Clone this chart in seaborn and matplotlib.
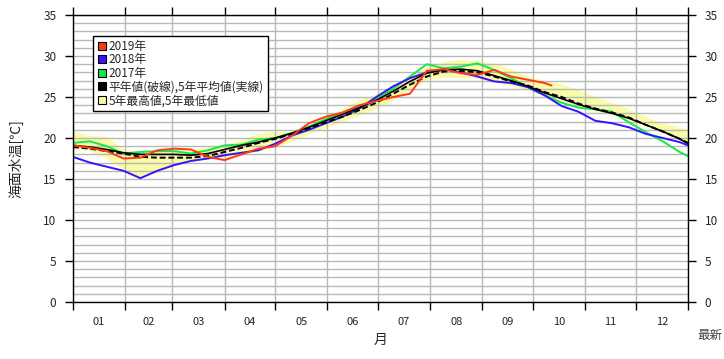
import numpy as np
import pandas as pd
import matplotlib
matplotlib.use("Agg")
import matplotlib.pyplot as plt
from matplotlib.lines import Line2D
import seaborn as sns

# ---------------------------------------------
# data (day of year)
# ---------------------------------------------
days = [0, 10, 20, 30, 40, 50, 60, 70, 80, 90, 100, 110, 120, 130, 140, 150,
        160, 170, 180, 190, 200, 210, 220, 230, 240, 250, 260, 270, 280, 290,
        300, 310, 320, 330, 340, 350, 360, 365]

sst_2018 = [17.7, 17.0, 16.5, 16.0, 15.1, 16.0, 16.7, 17.2, 17.5, 17.9, 18.2,
            18.5, 19.3, 20.3, 21.0, 21.8, 22.6, 23.6, 25.0, 26.3, 27.3, 28.0,
            28.4, 28.0, 27.5, 26.9, 26.7, 26.2, 25.2, 23.9, 23.2, 22.1, 21.8,
            21.3, 20.5, 20.0, 19.5, 19.1]

sst_2017 = [19.4, 19.6, 19.0, 18.1, 18.3, 18.4, 18.4, 18.1, 18.5, 19.1, 19.2,
            19.8, 20.0, 20.6, 21.4, 22.3, 23.1, 23.8, 24.8, 26.0, 27.5, 29.0,
            28.5, 28.7, 29.1, 28.3, 27.3, 26.2, 25.2, 24.3, 23.7, 23.5, 23.2,
            21.9, 20.7, 19.6, 18.3, 17.8]

days_2019 = [0, 10, 20, 30, 40, 50, 60, 70, 80, 90, 100, 110, 120, 130, 140,
             150, 160, 170, 180, 190, 200, 205, 210, 220, 230, 240, 250, 260,
             270, 280, 284]
sst_2019 = [19.1, 18.8, 18.4, 17.5, 17.6, 18.5, 18.7, 18.6, 17.7, 17.3, 18.0,
            18.7, 19.0, 20.3, 21.8, 22.6, 23.1, 24.0, 24.5, 25.0, 25.4, 26.8,
            28.2, 28.4, 27.9, 27.7, 28.3, 27.5, 27.1, 26.7, 26.4]

normal = [18.9, 18.7, 18.4, 18.1, 17.7, 17.6, 17.6, 17.6, 17.8, 18.3, 18.8,
          19.4, 19.9, 20.5, 21.2, 21.9, 22.6, 23.4, 24.3, 25.4, 26.5, 27.5,
          28.1, 28.2, 28.0, 27.5, 26.9, 26.4, 25.6, 25.0, 24.2, 23.6, 23.1,
          22.5, 21.6, 20.8, 19.9, 19.4]

mean_5yr = [19.1, 18.9, 18.6, 18.2, 18.0, 18.0, 18.0, 17.9, 18.1, 18.6, 19.1,
            19.5, 20.0, 20.6, 21.3, 22.1, 22.9, 23.7, 24.6, 25.7, 26.9, 27.9,
            28.3, 28.4, 28.2, 27.6, 27.0, 26.3, 25.5, 24.8, 24.1, 23.5, 23.0,
            22.4, 21.6, 20.8, 19.9, 19.3]

max_5yr = [20.8, 20.3, 20.2, 18.6, 18.4, 18.5, 18.6, 18.6, 18.9, 19.2, 19.8,
           20.6, 20.8, 20.7, 21.6, 22.6, 23.6, 24.7, 25.4, 26.4, 27.6, 28.7,
           29.3, 29.6, 29.4, 29.1, 28.4, 27.5, 27.0, 26.6, 25.9, 25.0, 24.3,
           23.5, 22.6, 21.8, 21.3, 21.1]

min_5yr = [18.7, 18.5, 17.5, 16.2, 15.2, 15.8, 16.6, 17.2, 17.4, 17.6, 18.0,
           18.4, 19.0, 19.6, 20.5, 21.3, 22.0, 22.8, 23.6, 24.6, 26.0, 27.1,
           27.4, 27.4, 27.3, 26.9, 26.4, 25.9, 25.2, 24.6, 23.9, 23.3, 22.8,
           22.2, 21.4, 20.6, 19.8, 19.3]

month_labels = ["01", "02", "03", "04", "05", "06",
                "07", "08", "09", "10", "11", "12"]
month_days = [31, 28, 31, 30, 31, 30, 31, 31, 30, 31, 30, 31]

RED = "#ff3a12"
BLUE = "#3a12ff"
GREEN = "#12e84a"
BAND = "#fafaa8"

sns.set_style("white")
plt.rcParams["font.family"] = ["Noto Sans CJK JP", "DejaVu Sans"]

fig = plt.figure(figsize=(7.24, 3.59), dpi=100)
ax = fig.add_axes([73 / 724, 1 - 302 / 359, 615 / 724, 287 / 359])

df = pd.DataFrame({"day": days, "y2018": sst_2018, "y2017": sst_2017,
                   "normal": normal, "mean": mean_5yr})
df19 = pd.DataFrame({"day": days_2019, "y2019": sst_2019})

ax.fill_between(days, min_5yr, max_5yr, color=BAND, lw=0, zorder=1)

sns.lineplot(data=df, x="day", y="y2017", color=GREEN, lw=1.4, ax=ax)
sns.lineplot(data=df, x="day", y="y2018", color=BLUE, lw=1.4, ax=ax)
sns.lineplot(data=df, x="day", y="normal", color="black", lw=1.4,
             linestyle=(0, (3, 1.5)), ax=ax)
sns.lineplot(data=df, x="day", y="mean", color="black", lw=1.2, ax=ax)
sns.lineplot(data=df19, x="day", y="y2019", color=RED, lw=1.4, ax=ax)

# axes, ticks, grid
bounds = np.concatenate([[0], np.cumsum(month_days)])
mids = (bounds[:-1] + bounds[1:]) / 2
ax.set_xlim(0, 365)
ax.set_ylim(0, 35)
ax.set_xticks(bounds)
ax.set_xticklabels([])
ax.set_xticks(mids, minor=True)
ax.set_xticklabels(month_labels, minor=True, fontsize=8)
ax.set_yticks(np.arange(0, 36, 5))
ax.set_yticks(np.arange(0, 36, 1), minor=True)

ax.set_axisbelow("line")
ax.xaxis.grid(True, which="major", color="#b4bab4", lw=1.0)
ax.yaxis.grid(True, which="both", color="#b4bab4", lw=1.0)

ax.tick_params(axis="x", which="major", direction="out", length=6, width=1,
               top=True, bottom=True, color="black")
ax.tick_params(axis="x", which="minor", length=0, pad=11, bottom=True)
ax.tick_params(axis="y", which="major", direction="out", length=6, width=1,
               left=True, right=True, labelleft=True, labelright=True,
               labelsize=8.5, pad=6, color="black")
ax.tick_params(axis="y", which="minor", length=0)
for s in ax.spines.values():
    s.set_color("black")
    s.set_linewidth(1)

ax.set_xlabel("月", fontsize=10, labelpad=4)
ax.set_ylabel("海面水温[℃]", fontsize=10, labelpad=14)

handles = [
    Line2D([], [], ls="none", marker="s", ms=6, mfc=RED, mec="black", mew=0.8),
    Line2D([], [], ls="none", marker="s", ms=6, mfc=BLUE, mec="black", mew=0.8),
    Line2D([], [], ls="none", marker="s", ms=6, mfc=GREEN, mec="black", mew=0.8),
    Line2D([], [], ls="none", marker="s", ms=6, mfc="black", mec="black", mew=0.8),
    Line2D([], [], ls="none", marker="s", ms=6, mfc=BAND, mec="black", mew=0.8),
]
labels = ["2019年", "2018年", "2017年",
          "平年値(破線),5年平均値(実線)", "5年最高値,5年最低値"]
leg = ax.legend(handles, labels, loc="upper left",
                bbox_to_anchor=(0.032, 0.928), fontsize=8.5, frameon=True,
                fancybox=False, framealpha=1, edgecolor="black",
                handlelength=0.8, handletextpad=0.2, labelspacing=0.05,
                borderpad=0.35, borderaxespad=0)
leg.get_frame().set_linewidth(1)

fig.text(722 / 724, 1 - 335 / 359, "最新", fontsize=9, color="#444444",
         va="center", ha="right")

fig.savefig("out.png", dpi=100)
